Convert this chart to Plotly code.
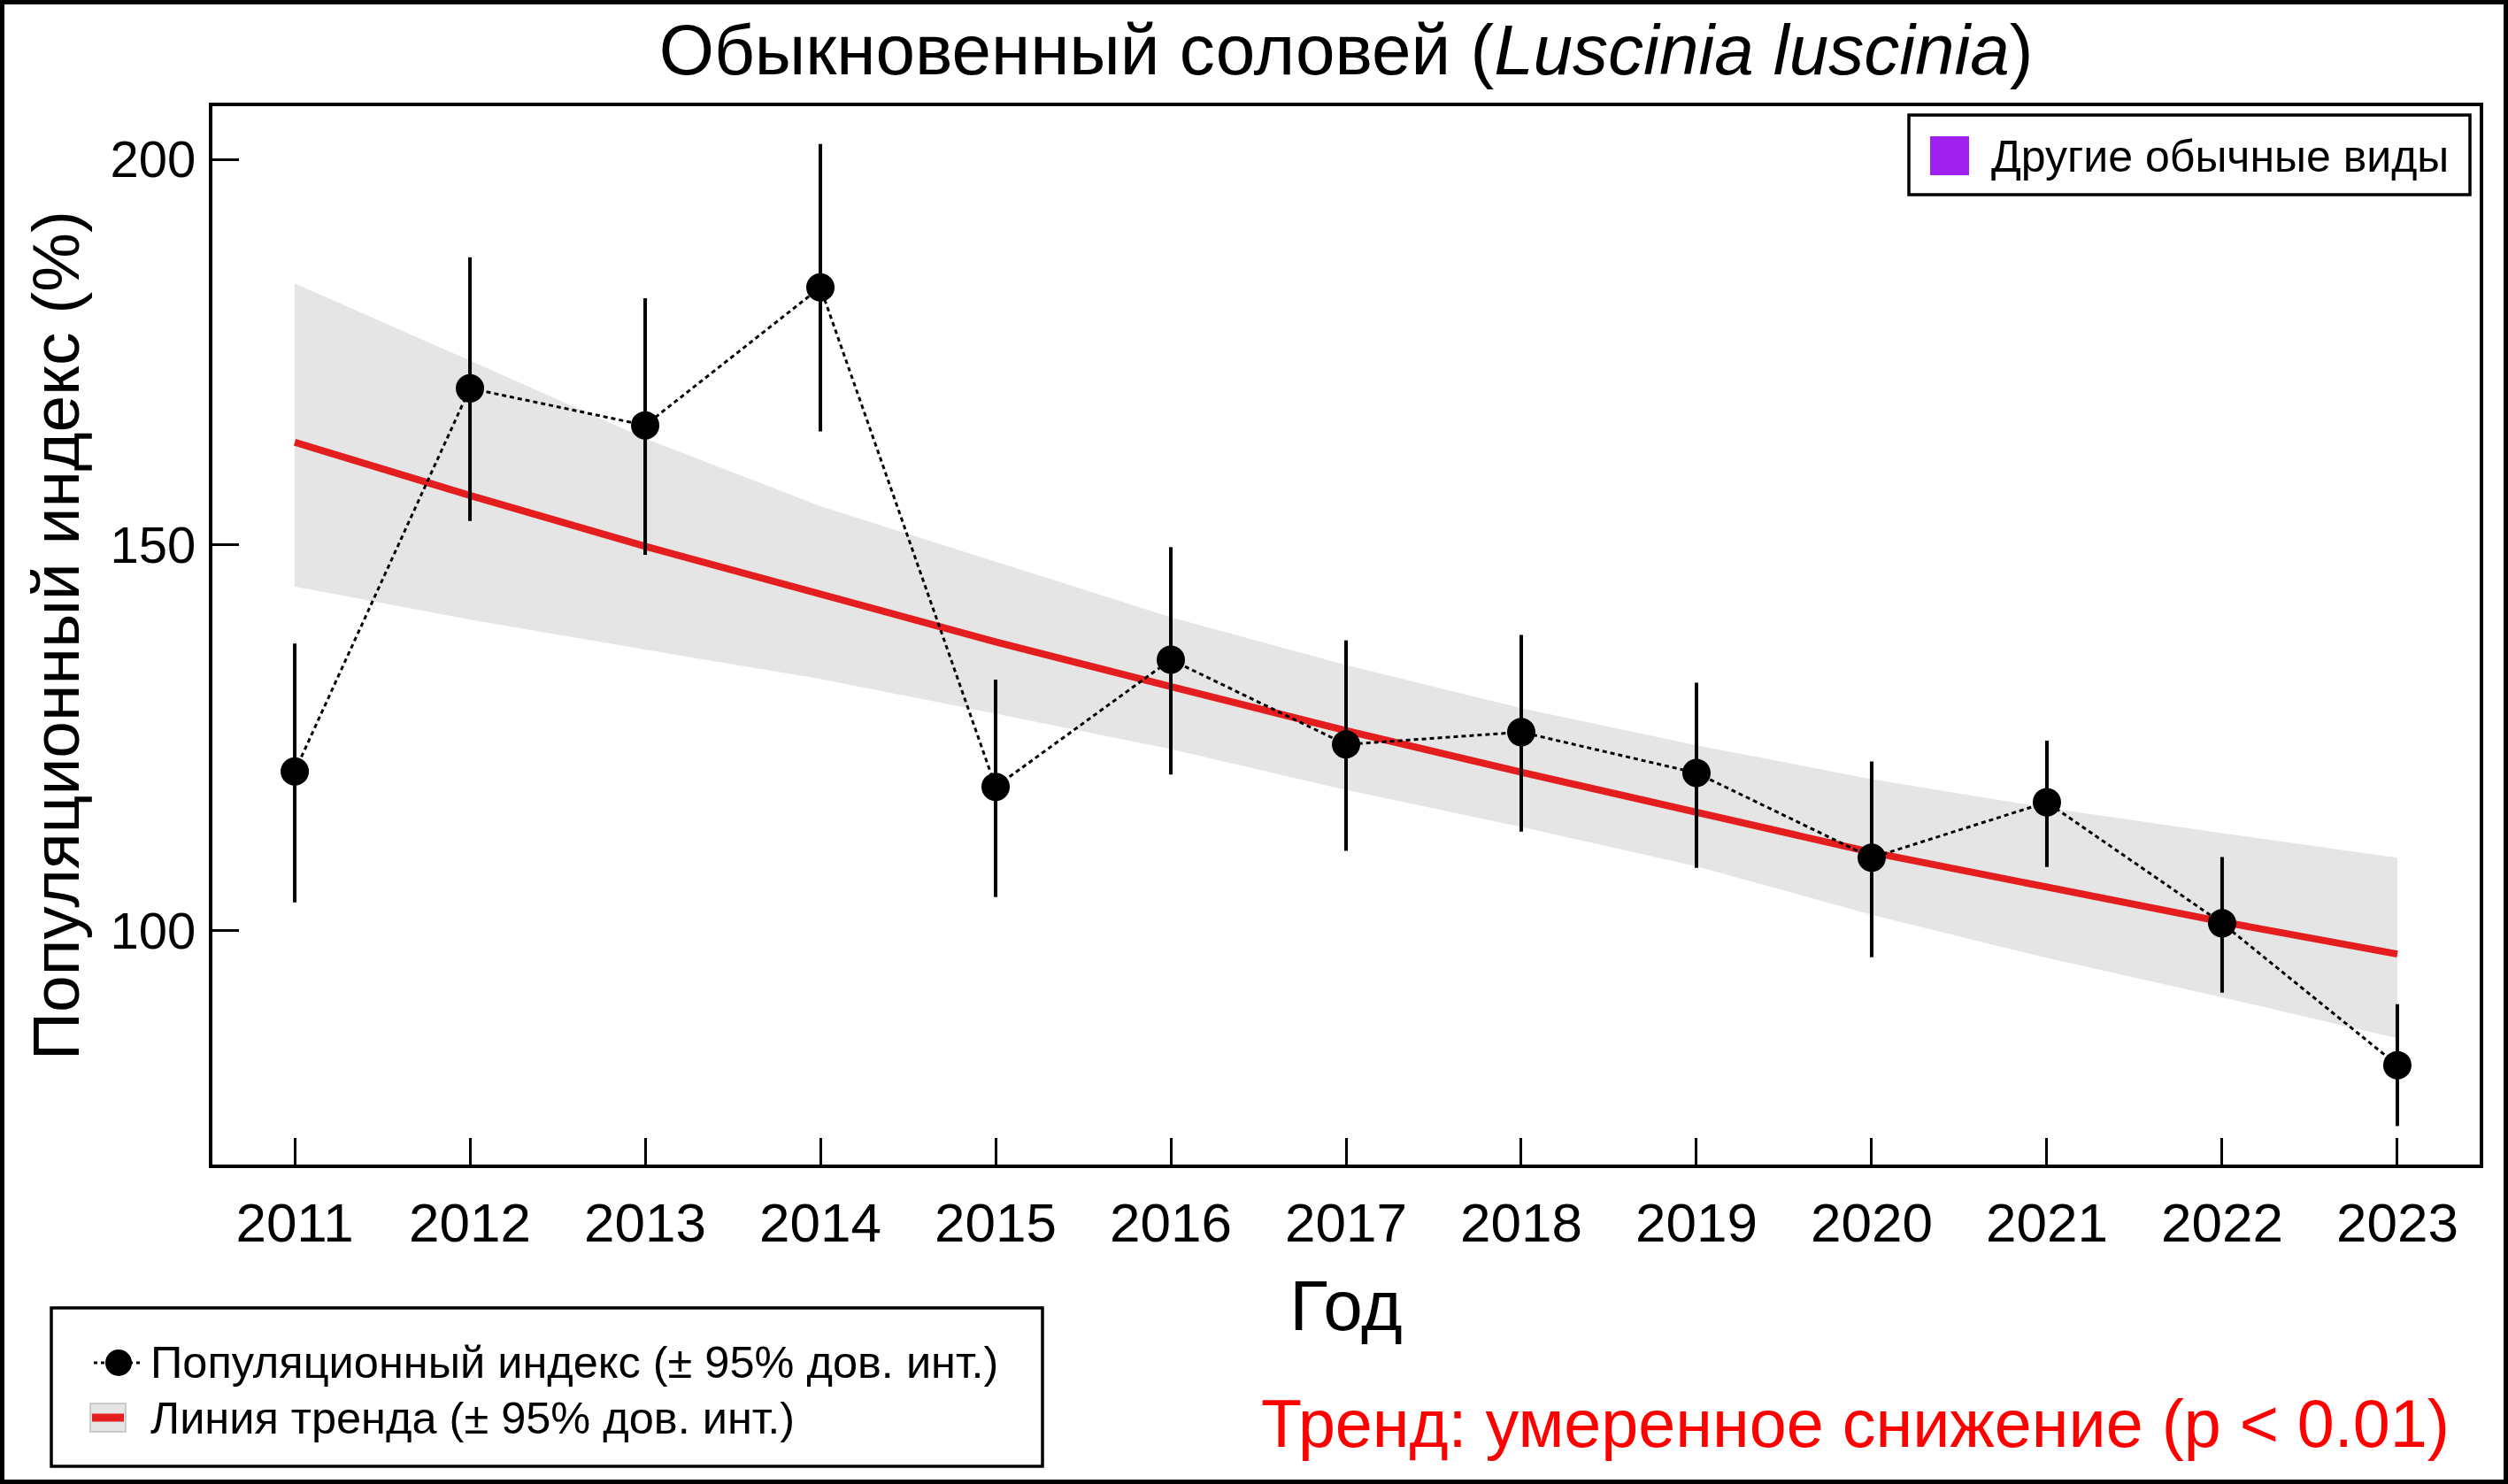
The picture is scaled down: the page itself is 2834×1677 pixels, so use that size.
import plotly.graph_objects as go

# ---------------- data ----------------
years = [2011, 2012, 2013, 2014, 2015, 2016, 2017, 2018, 2019, 2020, 2021, 2022, 2023]
index_vals = [120.6, 170.3, 165.5, 183.4, 118.6, 135.1, 124.1, 125.7, 120.4, 109.4, 116.6, 100.9, 82.5]
index_low = [103.6, 153.1, 148.7, 164.7, 104.3, 120.2, 110.3, 112.8, 108.1, 96.5, 108.2, 91.9, 74.6]
index_high = [137.2, 187.3, 182.0, 202.0, 132.5, 149.7, 137.6, 138.3, 132.1, 121.9, 124.6, 109.5, 90.4]
trend_vals = [163.3, 156.4, 149.8, 143.5, 137.4, 131.6, 125.9, 120.5, 115.3, 110.1, 105.6, 101.1, 96.9]
trend_low = [144.6, 140.3, 136.4, 132.6, 128.1, 123.5, 118.2, 113.4, 108.3, 102.0, 96.4, 91.3, 86.0]
trend_high = [183.9, 173.9, 163.8, 155.0, 147.8, 140.6, 134.4, 128.8, 124.0, 119.6, 115.9, 112.6, 109.4]
y_ticks = [100, 150, 200]

title_main = "Обыкновенный соловей ("
title_latin = "Luscinia luscinia"
x_title = "Год"
y_title = "Популяционный индекс (%)"
legend_index = "Популяционный индекс (± 95% дов. инт.)"
legend_trend = "Линия тренда (± 95% дов. инт.)"
legend_other = "Другие обычные виды"
trend_text = "Тренд: умеренное снижение (p < 0.01)"

# ---------------- geometry ----------------
FW, FH = 2834, 1677
L, R, T, B = 240, 2802, 120, 1316
PW, PH = R - L, B - T
FONT = "Liberation Sans, Arial, sans-serif"
RED = "#E41E1E"
BAND = "#E5E5E5"
PURPLE = "#A020F0"


def px(x):
    return (x - L) / PW


def py(y):
    return (B - y) / PH


err_plus = [h - v for h, v in zip(index_high, index_vals)]
err_minus = [v - lo for v, lo in zip(index_vals, index_low)]

fig = go.Figure()

# confidence band of trend
fig.add_trace(go.Scatter(x=years, y=trend_high, mode="lines", line=dict(width=0, color=BAND),
                         showlegend=False, hoverinfo="skip"))
fig.add_trace(go.Scatter(x=years, y=trend_low, mode="lines", line=dict(width=0, color=BAND),
                         fill="tonexty", fillcolor=BAND, showlegend=False, hoverinfo="skip"))
# trend line
fig.add_trace(go.Scatter(x=years, y=trend_vals, mode="lines", line=dict(width=8, color=RED),
                         showlegend=False, name=legend_trend))
# population index
fig.add_trace(go.Scatter(
    x=years, y=index_vals, mode="lines+markers",
    line=dict(color="black", width=3, dash="5px,4px"),
    marker=dict(size=32, color="black"),
    error_y=dict(type="data", symmetric=False, array=err_plus, arrayminus=err_minus,
                 color="black", thickness=4, width=0),
    showlegend=False, name=legend_index))

shapes = []
annotations = []

# outer frame of the whole picture
shapes.append(dict(type="rect", xref="paper", yref="paper", x0=px(0), x1=px(FW), y0=py(FH), y1=py(0),
                   line=dict(color="black", width=10), fillcolor="rgba(0,0,0,0)", layer="above"))

# ---- top-right legend box ----
shapes.append(dict(type="rect", xref="paper", yref="paper", x0=px(2157), x1=px(2791), y0=py(220), y1=py(130),
                   line=dict(color="black", width=3.5), fillcolor="white", layer="above"))
shapes.append(dict(type="rect", xref="paper", yref="paper", x0=px(2181), x1=px(2225), y0=py(198), y1=py(154),
                   line=dict(width=0), fillcolor=PURPLE, layer="above"))
annotations.append(dict(xref="paper", yref="paper", x=px(2248), y=py(177), text=legend_other,
                        showarrow=False, xanchor="left", yanchor="middle",
                        font=dict(family=FONT, size=50, color="black")))

# ---- bottom-left legend box ----
shapes.append(dict(type="rect", xref="paper", yref="paper", x0=px(58), x1=px(1178), y0=py(1657), y1=py(1478),
                   line=dict(color="black", width=3.5), fillcolor="white", layer="above"))
# index glyph
shapes.append(dict(type="line", xref="paper", yref="paper", x0=px(106), x1=px(162), y0=py(1540), y1=py(1540),
                   line=dict(color="black", width=3, dash="4px,4px"), layer="above"))
shapes.append(dict(type="circle", xref="paper", yref="paper", x0=px(119), x1=px(149), y0=py(1555), y1=py(1525),
                   line=dict(width=0), fillcolor="black", layer="above"))
# trend glyph
shapes.append(dict(type="rect", xref="paper", yref="paper", x0=px(102), x1=px(142), y0=py(1618), y1=py(1586),
                   line=dict(color="#BEBEBE", width=1.5), fillcolor=BAND, layer="above"))
shapes.append(dict(type="line", xref="paper", yref="paper", x0=px(104), x1=px(140), y0=py(1602), y1=py(1602),
                   line=dict(color=RED, width=9), layer="above"))
annotations.append(dict(xref="paper", yref="paper", x=px(168), y=py(1540), text=legend_index,
                        showarrow=False, xanchor="left", yanchor="middle",
                        font=dict(family=FONT, size=50.5, color="black")))
annotations.append(dict(xref="paper", yref="paper", x=px(168), y=py(1602), text=legend_trend,
                        showarrow=False, xanchor="left", yanchor="middle",
                        font=dict(family=FONT, size=50.5, color="black")))

# trend statement
annotations.append(dict(xref="paper", yref="paper", x=px(2770), y=py(1609), text=trend_text,
                        showarrow=False, xanchor="right", yanchor="middle",
                        font=dict(family=FONT, size=75.5, color="#FF0000")))

fig.update_layout(
    width=FW, height=FH,
    margin=dict(l=L, r=FW - R, t=T, b=FH - B, autoexpand=False),
    paper_bgcolor="white", plot_bgcolor="white",
    font=dict(family=FONT, color="black"),
    title=dict(text=title_main + "<i>" + title_latin + "</i>)", xref="paper", x=0.5, xanchor="center",
               yref="container", y=1 - 56 / FH, yanchor="middle",
               font=dict(family=FONT, size=80, color="black")),
    showlegend=False,
    shapes=shapes,
    annotations=annotations,
)

fig.update_xaxes(
    range=[2010.53, 2023.47], tickmode="array", tickvals=years, ticktext=[str(y) for y in years],
    showline=True, linecolor="black", linewidth=4, mirror=True,
    ticks="inside", ticklen=30, tickwidth=3, tickcolor="black",
    showgrid=False, zeroline=False,
    tickfont=dict(family=FONT, size=62, color="black"), ticklabelstandoff=9,
    title=dict(text=x_title, font=dict(family=FONT, size=80, color="black"), standoff=33),
    automargin=False,
)
fig.update_yaxes(
    range=[69.6, 206.9], tickmode="array", tickvals=y_ticks, ticktext=[str(v) for v in y_ticks],
    showline=True, linecolor="black", linewidth=4, mirror=True,
    ticks="inside", ticklen=30, tickwidth=3, tickcolor="black",
    showgrid=False, zeroline=False,
    tickfont=dict(family=FONT, size=58, color="black"), ticklabelstandoff=3,
    title=dict(text=y_title, font=dict(family=FONT, size=75, color="black"), standoff=11),
    automargin=False,
)

fig.write_html("out.html", config={"displayModeBar": False},
               post_script="document.body.style.margin='0';document.body.style.overflow='hidden';")
